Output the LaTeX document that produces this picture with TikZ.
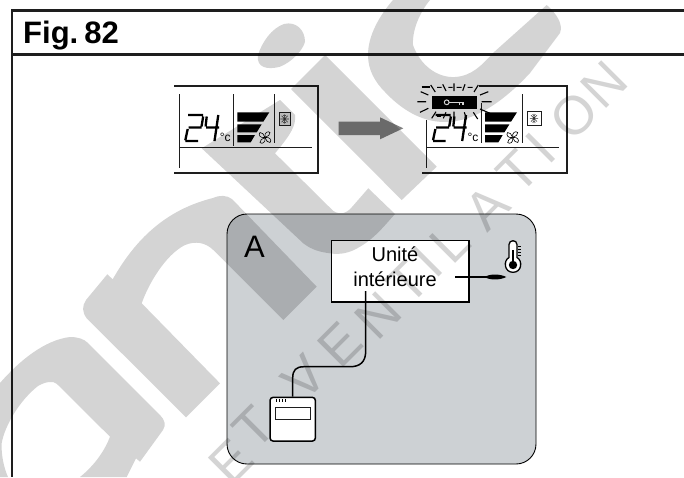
\documentclass[tikz,border=0pt]{standalone}
\usepackage{fontspec}
\setmainfont{Liberation Sans}
\usetikzlibrary{calc}
\definecolor{wm}{HTML}{D4D4D4}
\definecolor{panel}{HTML}{CDD1D4}
\definecolor{ink}{HTML}{1E1E1E}
\tikzset{
 x=1pt,y=-1pt,
 rule/.style={draw=ink,line width=2.2pt},
 thin rule/.style={draw=ink,line width=0.9pt},
 seg/.style={draw=black,line width=2.3pt},
 ray/.style={draw=black,line width=1.1pt},
 raybold/.style={draw=black,line width=1.8pt},
 wmletter/.style={text=wm,font=\fontsize{54}{54}\selectfont,rotate=45,inner sep=0pt},
 pics/lcd/.style={code={
   \draw[thin rule] (179,147.3) -- (311.7,147.3);
   \draw[thin rule] (274.3,94) -- (274.3,142.7);
   % 2
   \draw[seg] (188,115) -- (203,115) (203.2,116.5) -- (201.5,126.5) (188.5,127.4) -- (201.5,127.4)
              (187.7,129) -- (185.3,140.3) (185.3,141) -- (198,141);
   % 4
   \draw[seg] (206.7,116.5) -- (205.6,126.5) (206,127.4) -- (219,127.4) (218.3,115) -- (214.5,141);
   \node[anchor=base west,inner sep=0pt,font=\fontsize{12}{12}\selectfont] (degc) at (219.7,141.6) {°c};
   % bars
   \fill[black] (237.3,112.3) -- (269.3,112.3) -- (263.3,121.7) -- (237.3,121.7) -- cycle;
   \fill[black] (237.3,124.3) -- (261.7,124.3) -- (256.7,132.3) -- (237.3,132.3) -- cycle;
   \fill[black] (237.3,135) -- (255,135) -- (250.7,142.3) -- (237.3,142.3) -- cycle;
   % fan
   \begin{scope}[shift={(265,137.5)}]
     \draw[line width=0.6pt,fill=white] (0,0) .. controls (-1,-5) and (3,-7) .. (5,-5) .. controls (5.5,-3) and (3,-1) .. (0,0);
     \draw[line width=0.6pt,fill=white] (0,0) .. controls (1,5) and (-3,7) .. (-5,5) .. controls (-5.5,3) and (-3,1) .. (0,0);
     \draw[line width=0.6pt,fill=white] (0,0) .. controls (-5,1) and (-7,-3) .. (-5,-5) .. controls (-3,-5.5) and (-1,-3) .. (0,0);
     \draw[line width=0.6pt,fill=white] (0,0) .. controls (5,-1) and (7,3) .. (5,5) .. controls (3,5.5) and (1,3) .. (0,0);
   \end{scope}
 }},
 pics/snowflake/.style={code={
   \draw[line width=0.55pt,black!80] (-4.2,0) -- (4.2,0) (0,-4.6) -- (0,4.6) (-3,-3.2) -- (3,3.2) (-3,3.2) -- (3,-3.2);
   \draw[line width=0.45pt,black!80] (-1.5,-4) -- (0,-2.8) -- (1.5,-4) (-1.5,4) -- (0,2.8) -- (1.5,4);
 }}
}
\begin{document}
\begin{tikzpicture}
\clip (0,0) rectangle (684,477);
\fill[white] (0,0) rectangle (684,477);

% frame
\draw[rule] (684,10.5) -- (11.7,10.5) -- (11.7,477);
\draw[rule] (11.7,54.5) -- (684,54.5);
\node[anchor=base west,inner sep=0pt,font=\bfseries\fontsize{31}{31}\selectfont] (figlabel) at (23,43.3) {Fig.\hspace{6pt}82};

% left LCD
\draw[rule] (174.3,86) -- (318,86) -- (318,172.7) -- (174.3,172.7);
\draw[thin rule] (179,94.3) -- (179,168.3);
\draw[thin rule] (233,94) -- (233,146);
\pic {lcd};
\node[draw=ink,line width=0.8pt,fill=black!12,minimum width=11pt,minimum height=12.3pt,inner sep=0pt] (snowa) at (284.6,119) {};
\pic at (snowa.center) {snowflake};

% arrow
\fill[black!50!white] (338.7,121.7) -- (380,121.7) -- (380,117.3) -- (403.3,128.3) -- (380,139.3) -- (380,135) -- (338.7,135) -- cycle;

% right LCD
\draw[rule] (479,86) -- (566.7,86) -- (566.7,172.7) -- (422,172.7);
\draw[thin rule] (426.7,120) -- (426.7,168);
\draw[thin rule] (481,103) -- (481,142.7);
\begin{scope}[shift={(247.7,0)}]
\pic {lcd};
\end{scope}
\node[draw=ink,line width=0.8pt,fill=white,minimum width=14pt,minimum height=13.3pt,inner sep=0pt] (snowb) at (534,118.4) {};
\pic at (snowb.center) {snowflake};

% key
\fill[black] (431.7,96) rectangle (476.7,109.3);
\draw[white,line width=1pt] (446.7,102.3) circle (2.4);
\draw[white,line width=1.1pt] (449.1,102.3) -- (463.5,102.3) (459.5,102.3) -- (459.5,105) (463,102.3) -- (463,105);

% rays
\draw[raybold] (421.7,86.7) -- (430,86.7);
\draw[ray] (430.7,85) -- (435.3,92) (442.7,84.3) -- (446,91) (454,83.3) -- (454,91) (465,84.3) -- (462.7,90.7) (478.3,85) -- (474,92)
 (437,87.3) -- (441.7,87.3) (448.3,87.3) -- (452.7,87.3) (456.7,87.3) -- (461.7,87.3) (467.7,87.3) -- (472.7,87.3)
 (420.7,91.7) -- (428.3,95) (417.3,101.7) -- (426,101.7) (420,112.3) -- (428.3,108.3)
 (488.3,91.7) -- (480,95) (481.7,101.7) -- (491.7,101.7) (480,109) -- (490,113.3)
 (431.7,118.3) -- (436,111.7) (443.3,118.3) -- (446,112.3) (454,120) -- (454,111.7) (466.7,119.3) -- (464.3,112.3) (477.7,119) -- (473.3,112.3);
\draw[raybold] (437,116) -- (441,116);

% panel A
\node[draw=black,line width=0.9pt,fill=panel,rounded corners=20pt,minimum width=309pt,minimum height=250pt,inner sep=0pt] (panelA) at (381.5,339) {};
\node[anchor=base west,inner sep=0pt,font=\fontsize{31}{31}\selectfont] (letterA) at (244,257.7) {A};
\node[draw=black,line width=1.3pt,fill=white,minimum width=137.7pt,minimum height=61.3pt,inner sep=0pt] (unit) at (400,271.4) {};
\node[anchor=base,inner sep=0pt,font=\fontsize{20}{20}\selectfont] (unitA) at (395,261.7) {Unité};
\node[anchor=base,inner sep=0pt,font=\fontsize{20}{20}\selectfont] (unitB) at (395,286.7) {intérieure};

% remote
\node[draw=black,line width=1.5pt,fill=white,rounded corners=3pt,minimum width=45.3pt,minimum height=43.7pt,inner sep=0pt] (remote) at (292.7,419.2) {};
\node[draw=ink,line width=0.8pt,fill=white,minimum width=35.7pt,minimum height=11.6pt,inner sep=0pt] (screen) at (292.8,413.5) {};
\draw[line width=0.7pt] (276,398.8) -- (276,402.3) (279,398.8) -- (279,402.3) (282,398.8) -- (282,402.3) (285,398.8) -- (285,402.3);

% wire
\coordinate (wirestart) at (365.7,291);
\draw[black,line width=1.5pt] (wirestart) -- (365.7,351) .. controls (365.7,362) and (360,366.7) .. (350,366.7) -- (304,366.7) .. controls (296,366.7) and (292.7,370) .. (292.7,378) -- (remote.north -| 292.7,0);

% sensor
\coordinate (sensorstart) at (455,277);
\coordinate (sensorbase) at (486,277);
\draw[black,line width=1.2pt] (sensorstart) -- (sensorbase);
\fill[black] (484.5,277) .. controls (490,273.6) and (500,273.8) .. (506.3,277) .. controls (500,280.2) and (490,280.4) .. (484.5,277) -- cycle;

% thermometer
\draw[black,line width=1.3pt,fill=white] (509,257.5) -- (509,244.5) .. controls (509,239.5) and (517,239.5) .. (517,244.5) -- (517,257.5)
  .. controls (522.8,260.5) and (522,272.3) .. (513,272.3) .. controls (504,272.3) and (503.2,260.5) .. (509,257.5) -- cycle;
\fill[black] (513,265) circle (4.2);
\draw[black,line width=1.6pt] (513,250) -- (513,262);
\draw[black,line width=0.8pt] (518,246.5) -- (521,246.5) (518,249.5) -- (521,249.5) (518,252.5) -- (521,252.5) (518,255.5) -- (521,255.5);

% watermark
\begin{scope}[blend mode=multiply]
\fill[wm] (220,383.3) -- (186,417.3) -- (86.7,318.3) .. controls (82,312) and (82,306) .. (86,300) -- (107.3,274.3) -- (112.7,279.3)
  .. controls (135,240) and (165,210) .. (213,198) .. controls (220,195) and (226,195) .. (232,199)
  -- (316.7,286.7) -- (283.3,320) -- (213.3,250) .. controls (205,242) and (195,241) .. (185,245) .. controls (165,255) and (148,285) .. (141.7,303.3) -- cycle;
\fill[wm,even odd rule] (0,383) .. controls (20,360) and (45,340) .. (70,337) .. controls (78,337) and (84,339) .. (88,343)
  -- (160,415) .. controls (165,420) and (166,425) .. (163,430) -- (140,461.7) -- (136,458.3) -- (126.7,477) -- (80,477)
  .. controls (95,465) and (105,450) .. (110,436.7) -- (57,384) .. controls (53,380) and (45,382) .. (38,386)
  .. controls (20,400) and (5,425) .. (1.7,443) .. controls (1,455) and (4,468) .. (8,477) -- (0,477) -- cycle;
\fill[wm] (325,55) -- (436.7,166.7) -- (401.7,200) -- (291,89) -- cycle;
\fill[wm] (201.7,148.3) -- (280,100) -- (295,115) .. controls (296,125) and (292,133) .. (275,153.3) -- (333.3,211)
  .. controls (340,215) and (346,214) .. (352,207) -- (368.3,188.3) -- (395,214) .. controls (385,225) and (375,238) .. (360,246.7)
  .. controls (350,253) and (340,255) .. (330,253.3) .. controls (320,252) and (312,250) .. (303.3,243.3) -- cycle;
\fill[wm] (258,55) .. controls (262,42) and (272,28) .. (284,24) .. controls (296,21) and (305,30) .. (305,41.7)
  .. controls (303,50) and (292,62) .. (280,66.7) .. controls (268,70) and (256,68) .. (258,55) -- cycle;
\fill[wm] (393,0) .. controls (380,15) and (368,35) .. (368,55) .. controls (368,70) and (375,82) .. (385,92)
  .. controls (400,108) and (420,122) .. (445,122) .. controls (475,122) and (505,100) .. (530,73)
  -- (560,33) .. controls (563,25) and (558,15) .. (546.7,5) -- (493,53) .. controls (482,65) and (472,76) .. (455,77)
  .. controls (437,78) and (420,65) .. (413,45) .. controls (412,30) and (420,12) .. (430,0) -- cycle;
\node[wmletter] (w1) at (231,462) {E};
\node[wmletter] (w2) at (254,428) {T};
\node[wmletter] (w3) at (304,378) {V};
\node[wmletter] (w4) at (340,345) {E};
\node[wmletter] (w5) at (378,316) {N};
\node[wmletter] (w6) at (408,283) {T};
\node[wmletter] (w7) at (428,262) {I};
\node[wmletter] (w8) at (450,243) {L};
\node[wmletter] (w9) at (487,208) {A};
\node[wmletter] (w10) at (518,172) {T};
\node[wmletter] (w11) at (541,148) {I};
\node[wmletter] (w12) at (574,116) {O};
\node[wmletter] (w13) at (604,85) {N};
\end{scope}
\end{tikzpicture}
\end{document}
